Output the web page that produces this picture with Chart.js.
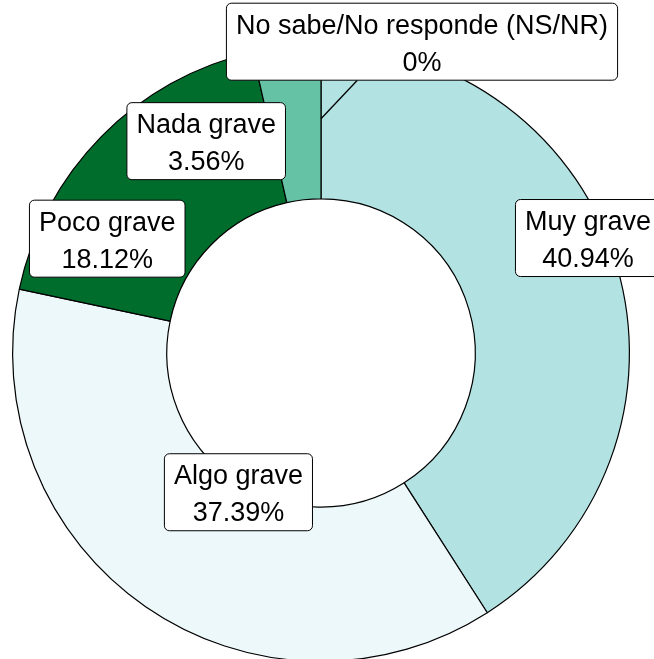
<!DOCTYPE html>
<html>
<head>
<meta charset="utf-8">
<script src="https://cdn.jsdelivr.net/npm/chart.js@4.4.1/dist/chart.umd.min.js"></script>
<style>
html,body{margin:0;padding:0;background:#fff;overflow:hidden}
#wrap{position:absolute;left:0;top:0;width:654px;height:706px}
</style>
</head>
<body>
<div id="wrap"><canvas id="pie"></canvas></div>
<script>
// ================= DATA =================
const categories=["Muy grave","Algo grave","Poco grave","Nada grave","No sabe/No responde (NS/NR)"]
const percents=[40.94,37.39,18.12,3.56,0]
const valueLabels=["40.94%","37.39%","18.12%","3.56%","0%"]

// slice colours + label nudges (px from the middle of each ring segment)
const colors=["#b2e2e2","#edf8fb","#006d2c","#66c2a4","#2ca25f"]
const nudges=[[45,-50],[49,-51],[-49,48],[-89,18],[101,-80]]

const FONT="27px 'Liberation Sans', Arial, sans-serif"

// ================= LABELS =================
const boxLabels={
id:"boxLabels",
afterDatasetsDraw(chart){
const ctx=chart.ctx
const arcs=chart.getDatasetMeta(0).data
ctx.save()
ctx.font=FONT
arcs.forEach((arc,i)=>{
const p=arc.getProps(["x","y","startAngle","endAngle","innerRadius","outerRadius"],true)
const mid=(p.startAngle+p.endAngle)/2
const r=(p.innerRadius+p.outerRadius)/2
const ax=p.x+Math.cos(mid)*r
const ay=p.y+Math.sin(mid)*r
const cx=ax+nudges[i][0]
const cy=ay+nudges[i][1]

const w=Math.max(ctx.measureText(categories[i]).width,ctx.measureText(valueLabels[i]).width)+19
const h=77
const x0=cx-w/2,y0=cy-h/2

// leader segment when the box sits far from its slice
const inside=ax>x0&&ax<x0+w&&ay>y0&&ay<y0+h
const dist=Math.hypot(nudges[i][0],nudges[i][1])
if(!inside&&dist>110){
ctx.beginPath()
ctx.moveTo(ax,ay-3)
ctx.lineTo(ax+(cx-ax)*0.36,y0+h)
ctx.strokeStyle="#000"
ctx.lineWidth=1.3
ctx.stroke()
}

ctx.beginPath()
ctx.roundRect(x0,y0,w,h,5)
ctx.fillStyle="#fff"
ctx.fill()
ctx.strokeStyle="#000"
ctx.lineWidth=1
ctx.stroke()

ctx.fillStyle="#000"
ctx.textAlign="center"
ctx.textBaseline="alphabetic"
ctx.fillText(categories[i],cx,cy-8)
ctx.fillText(valueLabels[i],cx,cy+29)
})
ctx.restore()
}
}

// ================= CHART =================
new Chart(document.getElementById("pie"),{
type:"doughnut",
data:{
labels:categories,
datasets:[{
data:percents,
backgroundColor:colors,
borderColor:"#000",
borderWidth:1.2,
hoverOffset:0
}]
},
options:{
responsive:true,
maintainAspectRatio:false,
animation:false,
cutout:"50%",
layout:{padding:{left:12,right:24,top:44,bottom:44}},
plugins:{legend:{display:false},tooltip:{enabled:false}}
},
plugins:[boxLabels]
})
</script>
</body>
</html>
